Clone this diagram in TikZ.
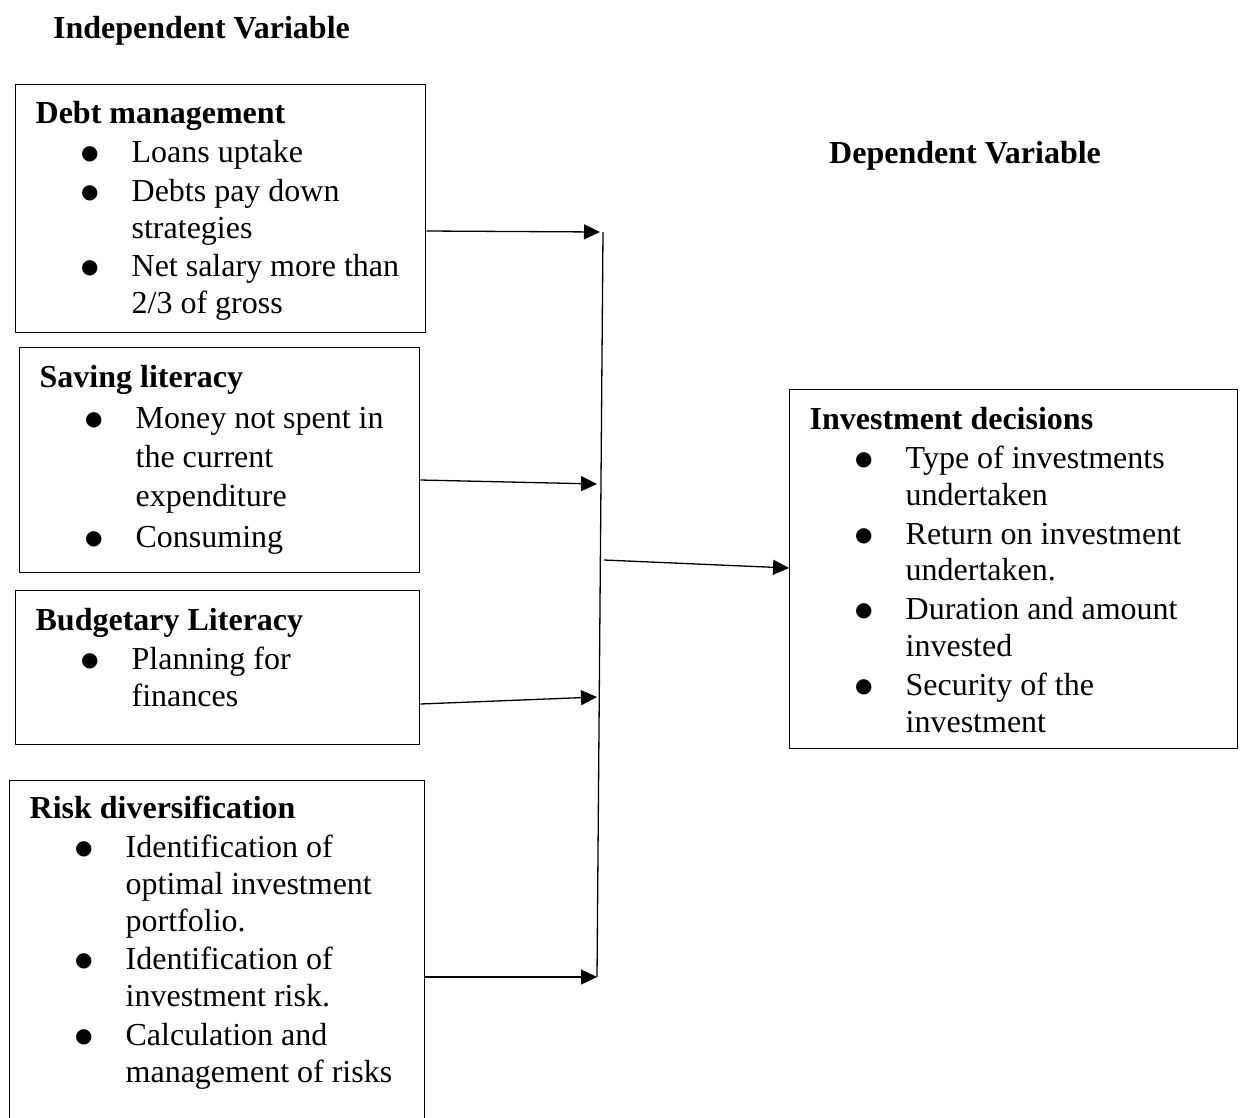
\documentclass[tikz,border=0pt]{standalone}
\usepackage{fontspec}
\setmainfont{Liberation Serif}
\newfontfamily\dotfont{DejaVu Sans}
\usepackage{tikz}
\usetikzlibrary{positioning,arrows.meta}

\newcommand{\bulmark}{\raisebox{3pt}{\dotfont\fontsize{20}{20}\selectfont ●}}
\newcommand{\bul}[1]{\\[2pt]\hspace*{96pt}\llap{\bulmark\hspace{33pt}}#1}
\newcommand{\cnt}[1]{\\\hspace*{96pt}#1}
% width, height, first baseline, line skip, heading, items
\newcommand{\varbody}[6]{\parbox[t][#2][t]{#1}{\raggedright\leftskip=20pt\relax
  \fontsize{32}{#4}\selectfont\rule{0pt}{#3}\textbf{#5}#6}}

\begin{document}
\begin{tikzpicture}[>={Triangle[length=16pt,width=15pt]},x=1pt,y=-1pt,line join=bevel,
  varbox/.style={draw,line width=1.3pt,inner sep=0pt,anchor=north west},
  heading/.style={inner sep=0pt,anchor=base west,font=\fontsize{32}{36.8}\selectfont\bfseries}]
%%
  \useasboundingbox (0,0) rectangle (1244,1117);

  \node (title_indep) at (53,38) [heading] {Independent Variable};
  \node (title_dep) at (829,163) [heading] {Dependent Variable};

  \node (var_debt) at (15,84) [varbox] {\varbody{410pt}{248pt}{39pt}{36.8pt}{Debt management}{%
    \bul{Loans uptake}\bul{Debts pay down}\cnt{strategies}\bul{Net salary more than}\cnt{2/3 of gross}}};

  \node (var_saving) at (19,347) [varbox] {\varbody{400pt}{225pt}{40pt}{39pt}{Saving literacy}{%
    \bul{Money not spent in}\cnt{the current}\cnt{expenditure}\bul{Consuming}}};

  \node (var_budget) at (15,590) [varbox] {\varbody{404pt}{154pt}{40pt}{36.8pt}{Budgetary Literacy}{%
    \bul{Planning for}\cnt{finances}}};

  \node (var_risk) at (9,780) [varbox] {\varbody{415pt}{345pt}{38pt}{36.8pt}{Risk diversification}{%
    \bul{Identification of}\cnt{optimal investment}\cnt{portfolio.}\bul{Identification of}\cnt{investment risk.}%
    \bul{Calculation and}\cnt{management of risks}}};

  \node (var_invest) at (789,389) [varbox] {\varbody{448pt}{359pt}{40pt}{36.8pt}{Investment decisions}{%
    \bul{Type of investments}\cnt{undertaken}\bul{Return on investment}\cnt{undertaken.}%
    \bul{Duration and amount}\cnt{invested}\bul{Security of the}\cnt{investment}}};

  \coordinate (spine_top) at (603,232);
  \coordinate (spine_bot) at (597,977);
  \coordinate (join_1) at (600,232);
  \coordinate (join_2) at (597,484);
  \coordinate (join_3) at (597,697);
  \coordinate (join_4) at (597,977);
  \coordinate (spine_out) at (604,560);

  \draw [black,line width=1.3pt] (spine_top) -- (spine_bot);
  \draw [black,line width=1.3pt,->] (var_debt.east |- 0,231) -- (join_1);
  \draw [black,line width=1.3pt,->] (var_saving.east |- 0,480) -- (join_2);
  \draw [black,line width=1.3pt,->] (var_budget.east |- 0,704) -- (join_3);
  \draw [black,line width=1.3pt,->] (var_risk.east |- 0,977) -- (join_4);
  \draw [black,line width=1.3pt,->] (spine_out) -- (var_invest.west |- 0,568);
%
\end{tikzpicture}
\end{document}
